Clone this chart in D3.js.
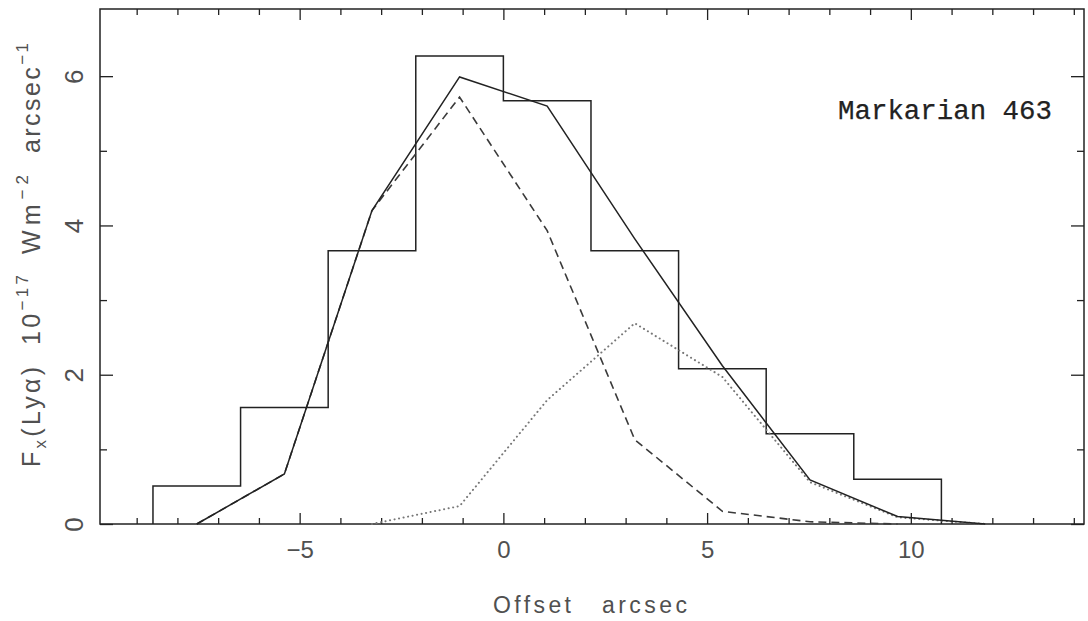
<!DOCTYPE html>
<html>
<head>
<meta charset="utf-8">
<script src="https://cdn.jsdelivr.net/npm/d3@7"></script>
<style>
  body { margin: 0; background: #fff; }
  svg { display: block; }
  text { font-family: "Liberation Sans", "DejaVu Sans", sans-serif; }
</style>
</head>
<body>
<div id="chart"></div>
<script>
// ----------- Data --------------------------------
// histogram bin edges (arcsec) and measured flux per bin
const binEdges = [-8.6, -6.45, -4.3, -2.15, 0, 2.15, 4.3, 6.45, 8.6, 10.75];
const binFlux = [0.51, 1.56, 3.66, 6.27, 5.67, 3.66, 2.08, 1.21, 0.60];

// model curves, sampled at the bin centres
const fitOffsets = [-7.525, -5.375, -3.225, -1.075, 1.075, 3.225, 5.375, 7.525, 9.675, 11.825];
const totalFit = [0, 0.67, 4.2, 5.99, 5.6, 3.82, 2.12, 0.59, 0.10, 0.0];
const dashedFit = [0, 0.67, 4.2, 5.72, 3.93, 1.13, 0.17, 0.03, 0.0, null];
const dottedFit = [null, null, 0.0, 0.24, 1.66, 2.69, 1.97, 0.56, 0.09, 0.0];

// axis ticks
const xMajor = [-5, 0, 5, 10];
const xMinor = d3.range(-9, 15, 1).filter(v => xMajor.indexOf(v) < 0);
const yMajor = [0, 2, 4, 6];
const yMinor = [1, 3, 5];

const label = "Markarian 463";

// ----------- Layout --------------
const W = 1088, H = 621;
const margin = { top: 9, right: 4, bottom: 97, left: 100 };
const width = W - margin.left - margin.right;
const height = H - margin.top - margin.bottom;
const ink = "#222";
const grey = "#505050";

const svg = d3.select("#chart")
    .append("svg")
    .attr("width", W)
    .attr("height", H)
    .append("g")
    .attr("transform", `translate(${margin.left}, ${margin.top})`);

const x = d3.scaleLinear().domain([-9.9, 14.25]).range([0, width]);
const y = d3.scaleLinear().domain([0, 6.9]).range([height, 0]);

// frame
svg.append("rect")
    .attr("width", width)
    .attr("height", height)
    .attr("fill", "none")
    .attr("stroke", ink)
    .attr("stroke-width", 1.5);

// ticks pointing inwards on all four sides
function styleAxis(g) {
    g.select(".domain").remove();
    g.selectAll(".tick line").attr("stroke", ink).attr("stroke-width", 1.3);
}

svg.append("g")
    .attr("transform", `translate(0, ${height})`)
    .call(d3.axisBottom(x).tickValues(xMajor).tickSize(-11).tickPadding(17).tickFormat(d => d < 0 ? "\u2212" + Math.abs(d) : d))
    .call(styleAxis)
    .call(g => g.selectAll("text").attr("fill", grey).style("font-size", "24px"));
svg.append("g")
    .attr("transform", `translate(0, ${height})`)
    .call(d3.axisBottom(x).tickValues(xMinor).tickSize(-6).tickFormat(""))
    .call(styleAxis);
svg.append("g")
    .call(d3.axisTop(x).tickValues(xMajor).tickSize(-11).tickFormat(""))
    .call(styleAxis);
svg.append("g")
    .call(d3.axisTop(x).tickValues(xMinor).tickSize(-6).tickFormat(""))
    .call(styleAxis);

svg.append("g")
    .call(d3.axisLeft(y).tickValues(yMajor).tickSize(-13).tickFormat(d3.format("d")))
    .call(styleAxis)
    .call(g => g.selectAll("text")
        .attr("x", 0)
        .attr("dy", 0)
        .attr("text-anchor", "middle")
        .attr("transform", "translate(-17, 0) rotate(-90)")
        .attr("fill", grey)
        .style("font-size", "26px"));
svg.append("g")
    .call(d3.axisLeft(y).tickValues(yMinor).tickSize(-7).tickFormat(""))
    .call(styleAxis);
svg.append("g")
    .attr("transform", `translate(${width}, 0)`)
    .call(d3.axisRight(y).tickValues(yMajor).tickSize(-13).tickFormat(""))
    .call(styleAxis);
svg.append("g")
    .attr("transform", `translate(${width}, 0)`)
    .call(d3.axisRight(y).tickValues(yMinor).tickSize(-7).tickFormat(""))
    .call(styleAxis);

// ----------- Histogram --------------
const steps = [[binEdges[0], 0]];
binFlux.forEach(function (v, i) {
    steps.push([binEdges[i], v]);
    steps.push([binEdges[i + 1], v]);
});
steps.push([binEdges[binEdges.length - 1], 0]);

const line = d3.line()
    .defined(d => d[1] !== null)
    .x(d => x(d[0]))
    .y(d => y(d[1]));

svg.append("path")
    .datum(steps)
    .attr("d", line)
    .attr("fill", "none")
    .attr("stroke", ink)
    .attr("stroke-width", 1.5);

// ----------- Fit curves --------------
const pairs = arr => fitOffsets.map((o, i) => [o, arr[i]]);

svg.append("path")
    .datum(pairs(dottedFit))
    .attr("d", line)
    .attr("fill", "none")
    .attr("stroke", "#777")
    .attr("stroke-width", 2)
    .attr("stroke-linecap", "round")
    .attr("stroke-dasharray", "0.1 4.5");

svg.append("path")
    .datum(pairs(dashedFit))
    .attr("d", line)
    .attr("fill", "none")
    .attr("stroke", "#3a3a3a")
    .attr("stroke-width", 1.6)
    .attr("stroke-dasharray", "8 5");

svg.append("path")
    .datum(pairs(totalFit))
    .attr("d", line)
    .attr("fill", "none")
    .attr("stroke", ink)
    .attr("stroke-width", 1.5);

// ----------- Labels --------------
svg.append("text")
    .attr("x", 738)
    .attr("y", 110)
    .attr("textLength", 214)
    .attr("lengthAdjust", "spacingAndGlyphs")
    .style("font-family", "'Liberation Mono', 'DejaVu Sans Mono', monospace")
    .style("font-size", "27px")
    .attr("fill", ink)
    .attr("stroke", ink)
    .attr("stroke-width", 0.25)
    .text(label);

// x axis title
svg.append("text")
    .attr("x", 393)
    .attr("y", 604)
    .attr("textLength", 78)
    .attr("fill", grey)
    .style("font-size", "23px")
    .text("Offset");
svg.append("text")
    .attr("x", 502)
    .attr("y", 604)
    .attr("textLength", 85)
    .attr("fill", grey)
    .style("font-size", "23px")
    .text("arcsec");

// y axis title, rotated, built from pieces with sub/superscripts
const yTitle = svg.append("g")
    .attr("transform", `translate(${40 - margin.left}, ${-margin.top})`);

function rotatedPiece(startY, len, parts) {
    const t = yTitle.append("text")
        .attr("transform", `translate(0, ${startY}) rotate(-90)`)
        .attr("textLength", len)
        .attr("fill", grey)
        .style("font-size", "25px");
    parts.forEach(function (p) {
        t.append("tspan")
            .attr("dy", p.dy || 0)
            .style("font-size", p.small ? "17px" : "25px")
            .text(p.s);
    });
}

rotatedPiece(467, 100, [
    { s: "F" }, { s: "x", small: true, dy: 6 }, { s: "(Ly\u03b1)", dy: -6 }
]);
rotatedPiece(345, 70, [
    { s: "10" }, { s: "\u221217", small: true, dy: -12 }
]);
rotatedPiece(254, 79, [
    { s: "Wm" }, { s: "\u22122", small: true, dy: -12 }
]);
rotatedPiece(153, 110, [
    { s: "arcsec" }, { s: "\u22121", small: true, dy: -12 }
]);
</script>
</body>
</html>
